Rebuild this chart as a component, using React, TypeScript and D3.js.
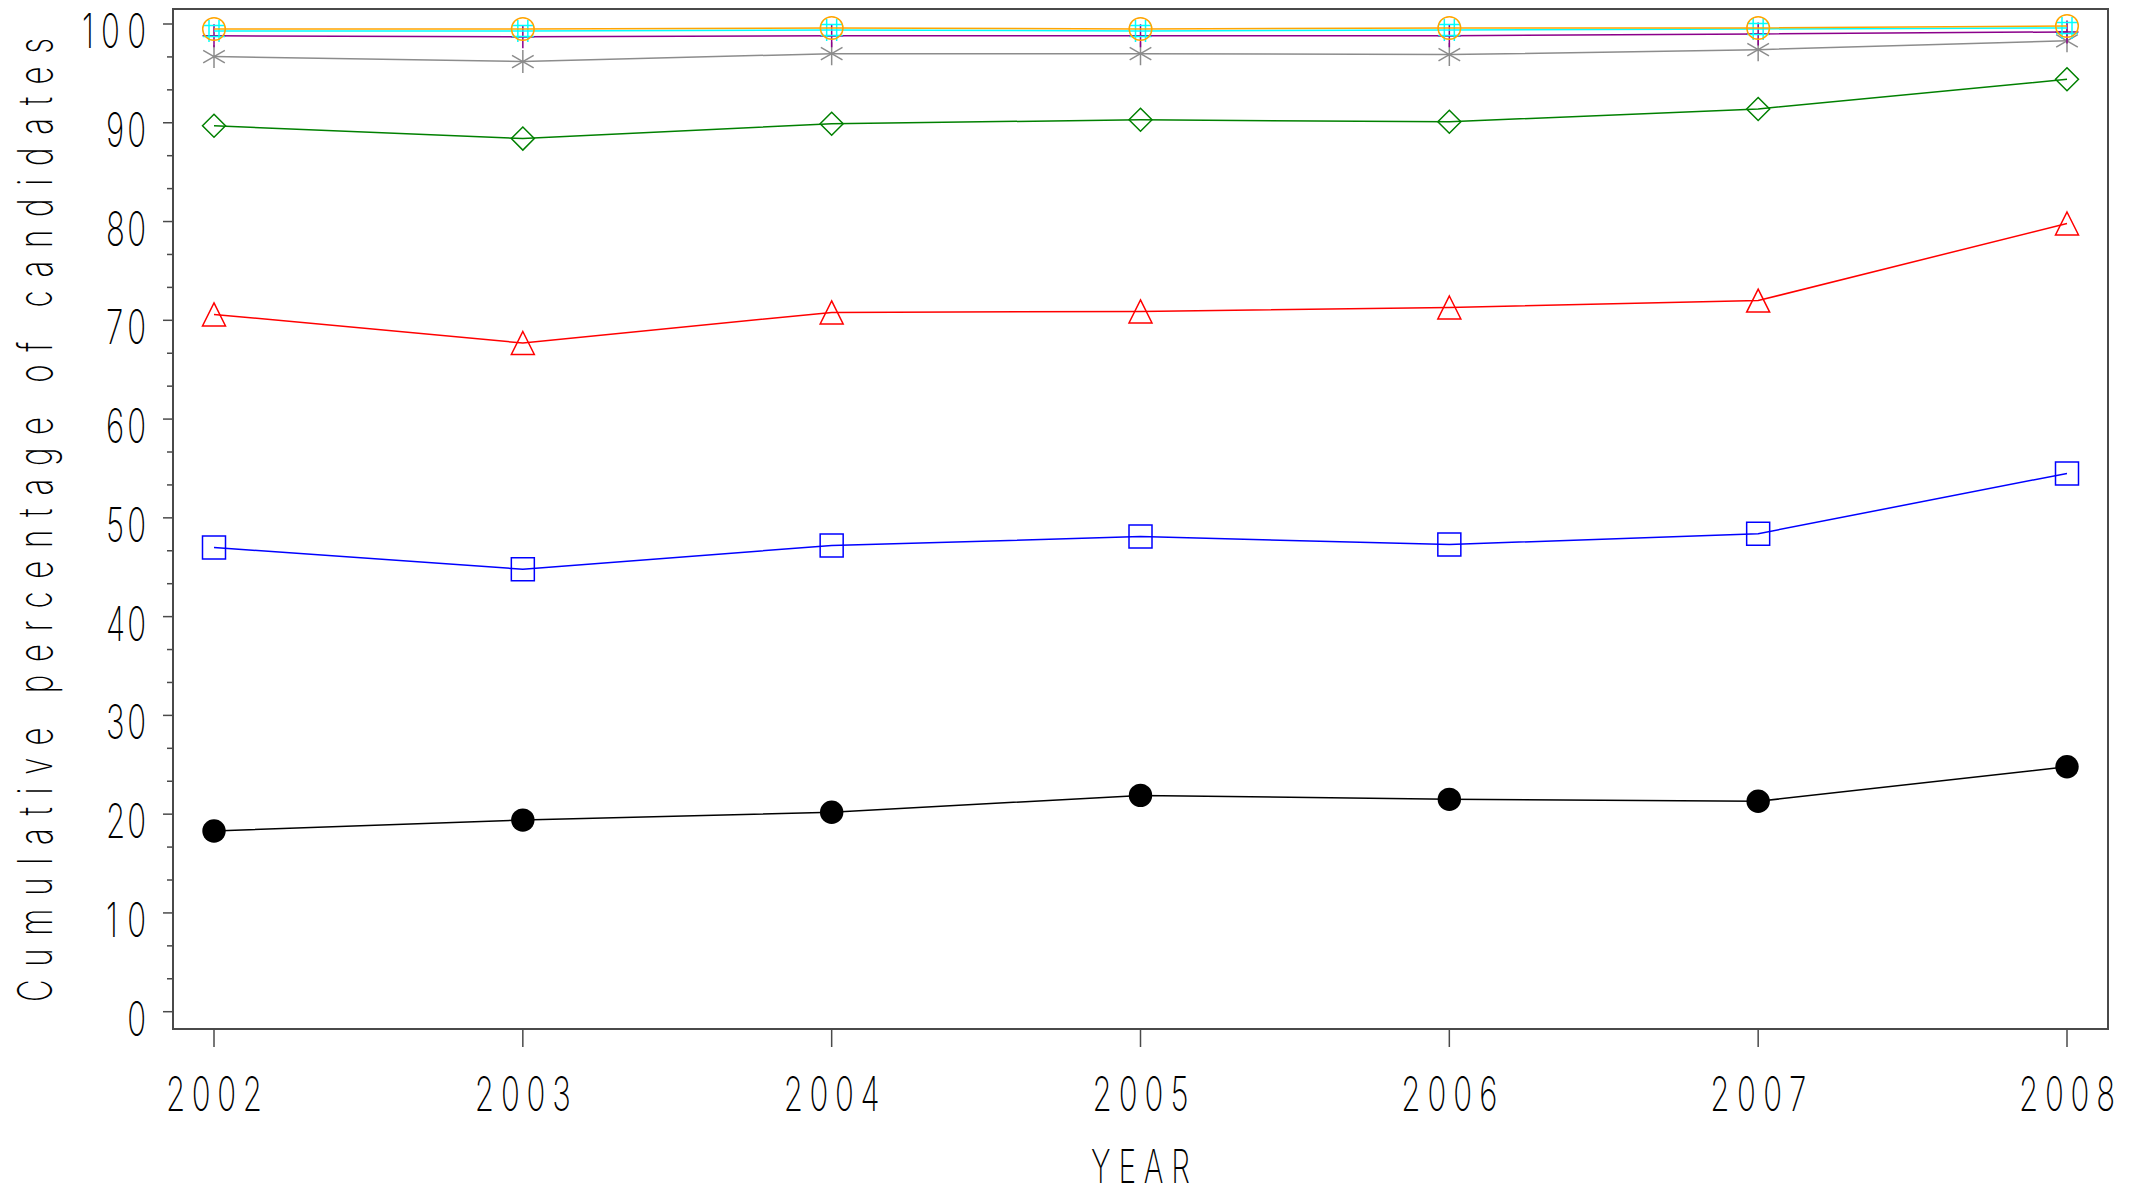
import * as d3 from 'd3';

const W = 2134;
const H = 1194;

// data
const years = [2002, 2003, 2004, 2005, 2006, 2007, 2008];
const yTicks = [0, 10, 20, 30, 40, 50, 60, 70, 80, 90, 100];

const blackVals = [18.3, 19.4, 20.2, 21.9, 21.5, 21.3, 24.8];
const blueVals = [47.0, 44.8, 47.2, 48.1, 47.3, 48.4, 54.5];
const redVals = [70.6, 67.7, 70.8, 70.9, 71.3, 72.0, 79.8];
const greenVals = [89.7, 88.4, 89.9, 90.3, 90.1, 91.4, 94.4];
const grayVals = [96.7, 96.2, 97.0, 97.0, 96.9, 97.4, 98.3];
const purpleVals = [98.8, 98.7, 98.8, 98.8, 98.8, 99.0, 99.2];
const cyanVals = [99.3, 99.3, 99.4, 99.3, 99.4, 99.5, 99.6];
const orangeVals = [99.5, 99.5, 99.6, 99.5, 99.6, 99.6, 99.8];

const frame = { left: 173, right: 2108, top: 9, bottom: 1029 };
const FONT = "Inter, 'Noto Sans', Roboto, sans-serif";
const SX = 0.65;

const x = d3.scaleLinear().domain([2002, 2008]).range([214, 2067]);
const y = d3.scaleLinear().domain([0, 100]).range([1011.7, 24]);

type Marker = 'dot' | 'square' | 'triangle' | 'diamond' | 'star' | 'plus' | 'hash' | 'circle';

const series: { vals: number[]; color: string; marker: Marker }[] = [
  { vals: blackVals, color: '#000000', marker: 'dot' },
  { vals: blueVals, color: '#0000ff', marker: 'square' },
  { vals: redVals, color: '#ff0000', marker: 'triangle' },
  { vals: greenVals, color: '#008000', marker: 'diamond' },
  { vals: grayVals, color: '#8c8c8c', marker: 'star' },
  { vals: purpleVals, color: '#8b008b', marker: 'plus' },
  { vals: cyanVals, color: '#00ffff', marker: 'hash' },
  { vals: orangeVals, color: '#ffa500', marker: 'circle' },
];

const s = 11.5;
function markerPath(m: Marker, cx: number, cy: number) {
  switch (m) {
    case 'square':
      return `M${cx - s},${cy - s}h${2 * s}v${2 * s}h${-2 * s}Z`;
    case 'triangle':
      return `M${cx},${cy - s}L${cx + s},${cy + s}L${cx - s},${cy + s}Z`;
    case 'diamond':
      return `M${cx},${cy - s}L${cx + s},${cy}L${cx},${cy + s}L${cx - s},${cy}Z`;
    case 'plus':
      return `M${cx},${cy - s}V${cy + s}M${cx - s},${cy}H${cx + s}`;
    case 'hash':
      return `M${cx - 5},${cy - 11}V${cy + 11}M${cx + 5},${cy - 11}V${cy + 11}M${cx - 11},${cy - 5.5}H${cx + 11}M${cx - 11},${cy + 5.5}H${cx + 11}`;
    case 'star': {
      const a = 12.5 * Math.cos(Math.PI / 6);
      const b = 12.5 * Math.sin(Math.PI / 6);
      return `M${cx},${cy - 11.5}V${cy + 11.5}M${cx - a},${cy - b}L${cx + a},${cy + b}M${cx - a},${cy + b}L${cx + a},${cy - b}`;
    }
    default:
      return '';
  }
}

function SText({ x: tx, y: ty, width, anchor = 'middle', rotate = 0, size = 48, children }: any) {
  const str = String(children);
  return (
    <g transform={`translate(${tx},${ty}) rotate(${rotate}) scale(${SX},1)`}>
      <text
        textAnchor={anchor}
        fontFamily={FONT}
        fontWeight={200}
        fontSize={size}
        fill="#000"
        {...(str.length > 1 && width ? { textLength: width / SX, lengthAdjust: 'spacing' } : {})}
      >
        {str}
      </text>
    </g>
  );
}

export default function App() {
  const line = d3
    .line<number>()
    .x((_, i) => x(years[i]))
    .y((d) => y(d));

  const minor: number[] = [];
  for (let v = 0; v < 100; v += 10) {
    minor.push(v + 10 / 3, v + 20 / 3);
  }

  return (
    <svg
      width={W}
      height={H}
      style={{ position: 'absolute', left: 0, top: 0, display: 'block', background: '#fff' }}
    >
      <rect
        x={frame.left}
        y={frame.top}
        width={frame.right - frame.left}
        height={frame.bottom - frame.top}
        fill="none"
        stroke="#4a4a4a"
        strokeWidth={2}
      />
      {yTicks.map((t) => (
        <line key={t} x1={frame.left - 10} x2={frame.left} y1={y(t)} y2={y(t)} stroke="#4a4a4a" strokeWidth={1.5} />
      ))}
      {minor.map((t, i) => (
        <line key={i} x1={frame.left - 6} x2={frame.left} y1={y(t)} y2={y(t)} stroke="#4a4a4a" strokeWidth={1.5} />
      ))}
      {years.map((yr) => (
        <line key={yr} x1={x(yr)} x2={x(yr)} y1={frame.bottom} y2={frame.bottom + 18} stroke="#4a4a4a" strokeWidth={1.5} />
      ))}
      {yTicks.map((t) => (
        <SText key={t} x={146} y={y(t) + 24} anchor="end" width={String(t).length * 24 - 8}>
          {t}
        </SText>
      ))}
      {years.map((yr) => (
        <SText key={yr} x={x(yr)} y={1111} width={96}>
          {yr}
        </SText>
      ))}
      <SText x={(frame.left + frame.right) / 2} y={1183} width={99} size={46}>
        YEAR
      </SText>
      <SText x={52} y={520} rotate={-90} width={964}>
        Cumulative percentage of candidates
      </SText>

      {series.map((ser, si) => (
        <g key={si}>
          <path d={line(ser.vals) || ''} fill="none" stroke={ser.color} strokeWidth={1.5} />
          {ser.vals.map((v, i) => {
            const cx = x(years[i]);
            const cy = y(v);
            if (ser.marker === 'dot')
              return <circle key={i} cx={cx} cy={cy} r={11.7} fill={ser.color} />;
            if (ser.marker === 'circle')
              return <circle key={i} cx={cx} cy={cy} r={11.3} fill="none" stroke={ser.color} strokeWidth={1.5} />;
            return (
              <path key={i} d={markerPath(ser.marker, cx, cy)} fill="none" stroke={ser.color} strokeWidth={1.5} />
            );
          })}
        </g>
      ))}
    </svg>
  );
}
